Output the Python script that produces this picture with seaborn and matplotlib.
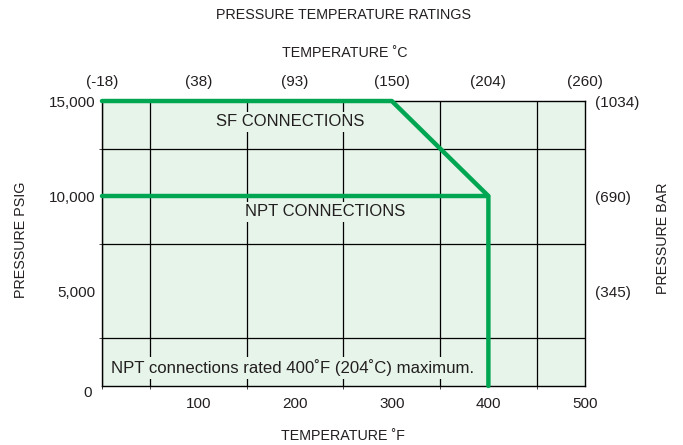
import matplotlib
matplotlib.use("Agg")
import matplotlib.pyplot as plt
import matplotlib.transforms as mtransforms
import seaborn as sns
import pandas as pd

# SF connection rating (deg F, psig)
sf_temp = [0, 300, 400, 400]
sf_psig = [15000, 15000, 10000, 0]
# NPT connection rating
npt_temp = [0, 400]
npt_psig = [10000, 10000]

f_ticks = [100, 200, 300, 400, 500]
c_ticks = [0, 100, 200, 300, 400, 500]
c_labels = ["(-18)", "(38)", "(93)", "(150)", "(204)", "(260)"]
psig_ticks = [0, 5000, 10000, 15000]
psig_labels = ["0", "5,000", "10,000", "15,000"]
bar_ticks = [5000, 10000, 15000]
bar_labels = ["(345)", "(690)", "(1034)"]

sns.set_style("white")
plt.rcParams["font.family"] = ["Liberation Sans", "DejaVu Sans"]
ink = "#231f20"
plt.rcParams["text.color"] = ink
plt.rcParams["xtick.color"] = ink
plt.rcParams["ytick.color"] = ink
plt.rcParams["axes.labelcolor"] = ink

green = "#00a651"
fill = "#e6f4ea"

fig = plt.figure(figsize=(6.83, 4.45), dpi=100)
ax = fig.add_axes([0.1493, 0.1326, 0.7072, 0.6404])
ax.set_facecolor(fill)

# grid every 50F / 2500 psig
ax.set_xlim(0, 500)
ax.set_ylim(0, 15000)
ax.set_xticks(range(0, 501, 50), minor=True)
ax.set_yticks(range(0, 15001, 2500), minor=True)
ax.grid(which="minor", color="black", linewidth=0.9)
ax.set_axisbelow(True)

sf = pd.DataFrame({"temp": sf_temp, "psig": sf_psig})
npt = pd.DataFrame({"temp": npt_temp, "psig": npt_psig})
for d in (sf, npt):
    sns.lineplot(data=d, x="temp", y="psig", sort=False, estimator=None,
                 color=green, linewidth=3.2, ax=ax, zorder=5, clip_on=False)

box = dict(facecolor=fill, edgecolor="none", pad=2)
ax.text(195, 13900, "SF CONNECTIONS", ha="center", va="center", fontsize=12,
        bbox=box, zorder=4)
ax.text(231, 9160, "NPT CONNECTIONS", ha="center", va="center", fontsize=12,
        bbox=box, zorder=4)
ax.text(9, 950, "NPT connections rated 400˚F (204˚C) maximum.", ha="left",
        va="center", fontsize=12.1, bbox=box, zorder=4)

for s in ax.spines.values():
    s.set_color("black")
    s.set_linewidth(1.0)

ax.set_xticks(f_ticks)
ax.set_xticklabels([str(t) for t in f_ticks], fontsize=11)
ax.set_yticks(psig_ticks)
ax.set_yticklabels(psig_labels, fontsize=11)
ax.tick_params(axis="x", length=0, pad=8)
ax.tick_params(axis="y", length=0, pad=5)
ax.set_xlabel("")
ax.set_ylabel("")

# the "0" label sits a bit low and left in the original
zero = ax.get_yticklabels()[0]
zero.set_transform(zero.get_transform() +
                   mtransforms.ScaledTranslation(-2 / 72, -4 / 72, fig.dpi_scale_trans))

top = ax.twiny()
top.set_xlim(ax.get_xlim())
top.set_xticks(c_ticks)
top.set_xticklabels(c_labels, fontsize=11)
top.tick_params(length=0, pad=9)

right = ax.twinx()
right.set_ylim(ax.get_ylim())
right.set_yticks(bar_ticks)
right.set_yticklabels(bar_labels, fontsize=11)
right.tick_params(length=0, pad=7)

for a in (top, right):
    for s in a.spines.values():
        s.set_visible(False)

W, H = 683, 445
fig.text(343 / W, 1 - 15 / H, "PRESSURE TEMPERATURE RATINGS", ha="center", va="center", fontsize=10.3)
fig.text(345 / W, 1 - 53 / H, "TEMPERATURE ˚C", ha="center", va="center", fontsize=10.3)
fig.text(343 / W, 1 - 436 / H, "TEMPERATURE ˚F", ha="center", va="center", fontsize=10.3)
fig.text(21 / W, 1 - 240 / H, "PRESSURE PSIG", ha="center", va="center", rotation=90, fontsize=10.3)
fig.text(663 / W, 1 - 238 / H, "PRESSURE BAR", ha="center", va="center", rotation=90, fontsize=10.3)

fig.savefig("out.png", dpi=100)
